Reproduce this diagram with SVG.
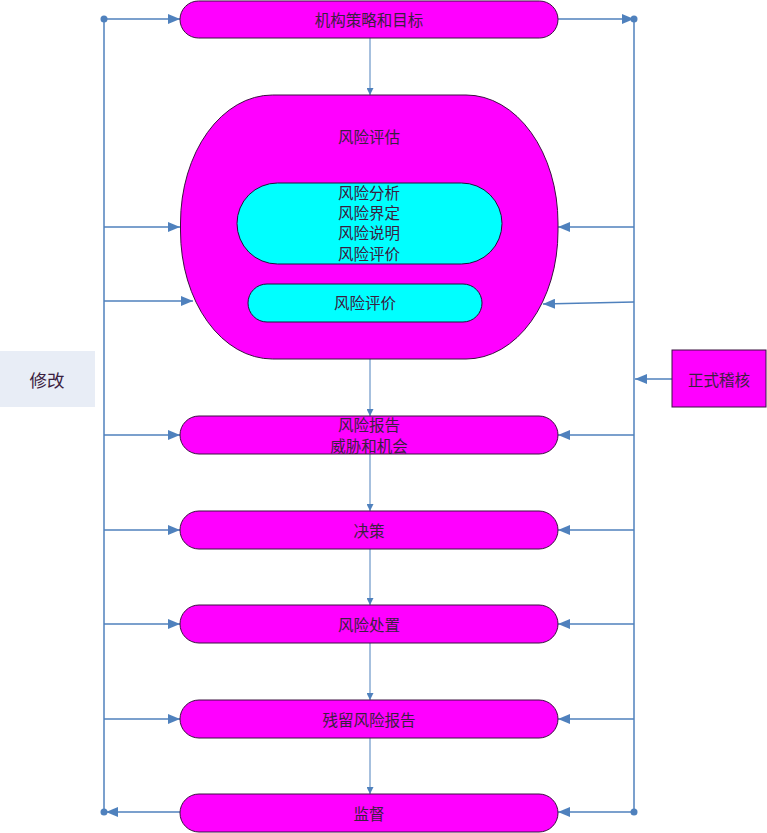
<svg xmlns="http://www.w3.org/2000/svg" width="767" height="833" viewBox="0 0 767 833">
<style>
.n{fill:#ff00ff;stroke:#3a1040;stroke-width:1}
.c{fill:#00ffff;stroke:#1a1a3a;stroke-width:1}
.t{font-family:"Noto Sans CJK SC","Noto Sans CJK JP",sans-serif;font-size:15.5px;fill:#3a2040;text-anchor:middle;dominant-baseline:central}
.l{stroke:#4f81bd;stroke-width:1.5;fill:none}
.a{marker-end:url(#ah)}
.d{fill:#4f81bd}
</style>
<defs>
<marker id="ah" markerWidth="12" markerHeight="10" refX="12" refY="5" orient="auto" markerUnits="userSpaceOnUse">
<path d="M0,0 L12,5 L0,10 Z" fill="#4f81bd"/>
</marker>
<marker id="as" markerWidth="7" markerHeight="7" refX="7" refY="3.5" orient="auto" markerUnits="userSpaceOnUse">
<path d="M0,0 L7,3.5 L0,7 Z" fill="#4f81bd"/>
</marker>
</defs>
<g id="connectors">
<line class="l" x1="104" y1="19" x2="104" y2="812"/>
<line class="l" x1="634" y1="19" x2="634" y2="812"/>
<circle class="d" cx="104" cy="19" r="3.5"/>
<circle class="d" cx="634" cy="19" r="3.5"/>
<circle class="d" cx="104" cy="812" r="3.5"/>
<circle class="d" cx="634" cy="812" r="3.5"/>
<line class="l a" x1="104" y1="19" x2="180" y2="19"/>
<line class="l a" x1="558" y1="19" x2="634" y2="19"/>
<line class="l a" x1="104" y1="227" x2="180" y2="227"/>
<line class="l a" x1="104" y1="301" x2="193" y2="301"/>
<line class="l a" x1="634" y1="227" x2="558" y2="227"/>
<line class="l a" x1="634" y1="302" x2="543" y2="304"/>
<line class="l a" x1="672" y1="379" x2="635" y2="379"/>
<line class="l a" x1="104" y1="435" x2="180" y2="435"/>
<line class="l a" x1="634" y1="435" x2="558" y2="435"/>
<line class="l a" x1="104" y1="530" x2="180" y2="530"/>
<line class="l a" x1="634" y1="530" x2="558" y2="530"/>
<line class="l a" x1="104" y1="624" x2="180" y2="624"/>
<line class="l a" x1="634" y1="624" x2="558" y2="624"/>
<line class="l a" x1="104" y1="719" x2="180" y2="719"/>
<line class="l a" x1="634" y1="719" x2="558" y2="719"/>
<line class="l a" x1="180" y1="812" x2="106" y2="812"/>
<line class="l a" x1="634" y1="812" x2="558" y2="812"/>
<g style="stroke-width:1;marker-end:url(#as)" stroke="#4f81bd">
<line x1="370" y1="38" x2="370" y2="95"/>
<line x1="370" y1="359" x2="370" y2="416"/>
<line x1="370" y1="454" x2="370" y2="511"/>
<line x1="370" y1="549" x2="370" y2="605"/>
<line x1="370" y1="643" x2="370" y2="700"/>
<line x1="370" y1="738" x2="370" y2="794"/>
</g>
</g>
<g id="strategy"><rect class="n" x="180" y="1" width="378" height="37" rx="18.5"/><text class="t" x="369" y="19">机构策略和目标</text></g>
<g id="assessment"><rect class="n" x="180.5" y="95" width="377.5" height="264" rx="92" ry="128"/><text class="t" x="369" y="136">风险评估</text></g>
<g id="analysis"><rect class="c" x="237" y="183" width="265" height="81" rx="40.5"/>
<text class="t" x="369" y="192">风险分析</text><text class="t" x="369" y="212">风险界定</text><text class="t" x="369" y="232">风险说明</text><text class="t" x="369" y="253">风险评价</text></g>
<g id="evaluation"><rect class="c" x="248" y="284" width="234" height="38" rx="19"/><text class="t" x="365" y="302">风险评价</text></g>
<g id="modify"><rect x="0" y="351" width="95" height="56" fill="#e8edf6"/><text class="t" x="47" y="379" style="font-size:17.5px">修改</text></g>
<g id="audit"><rect class="n" x="672" y="350" width="94" height="57"/><text class="t" x="719" y="379">正式稽核</text></g>
<g id="report"><rect class="n" x="180" y="416" width="378" height="38" rx="19"/><text class="t" x="369" y="424">风险报告</text><text class="t" x="369" y="445">威胁和机会</text></g>
<g id="decision"><rect class="n" x="180" y="511" width="378" height="38" rx="19"/><text class="t" x="369" y="530">决策</text></g>
<g id="treatment"><rect class="n" x="180" y="605" width="378" height="38" rx="19"/><text class="t" x="369" y="624">风险处置</text></g>
<g id="residual"><rect class="n" x="180" y="700" width="378" height="38" rx="19"/><text class="t" x="369" y="719">残留风险报告</text></g>
<g id="monitor"><rect class="n" x="180" y="794" width="378" height="38" rx="19"/><text class="t" x="369" y="813">监督</text></g>
</svg>
